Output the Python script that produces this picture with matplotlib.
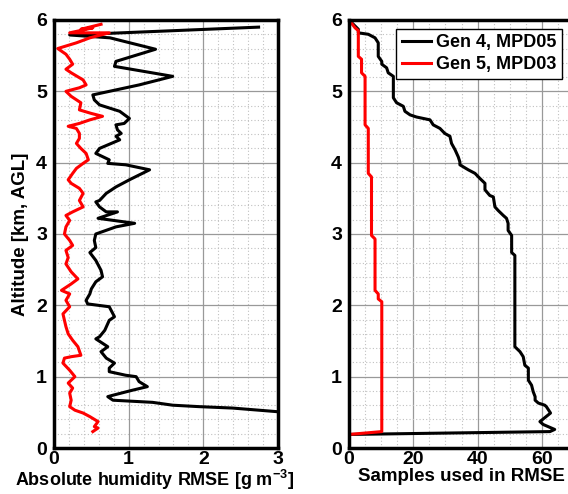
import numpy as np
import matplotlib
matplotlib.use("Agg")
import matplotlib.pyplot as plt
from matplotlib.ticker import MultipleLocator

plt.rcParams['font.family'] = ['Liberation Sans', 'DejaVu Sans']
plt.rcParams['font.weight'] = 'bold'
plt.rcParams['axes.labelweight'] = 'bold'
plt.rcParams['font.size'] = 12
plt.rcParams['mathtext.fontset'] = 'custom'
plt.rcParams['mathtext.rm'] = 'Liberation Sans:bold'
plt.rcParams['mathtext.bf'] = 'Liberation Sans:bold'
plt.rcParams['mathtext.default'] = 'bf'

# left panel: absolute humidity RMSE profiles (altitude km, rmse g/m3)
gen4_alt = [5.90, 5.79, 5.75, 5.59, 5.42, 5.35, 5.21, 5.09, 4.95, 4.88, 4.81, 4.72,
            4.62, 4.55, 4.53, 4.46, 4.41, 4.37, 4.32, 4.20, 4.13, 4.04, 3.99, 3.97,
            3.90, 3.76, 3.66, 3.57, 3.47, 3.45, 3.38, 3.31, 3.31, 3.22, 3.15, 3.10,
            3.00, 2.91, 2.81, 2.74, 2.63, 2.49, 2.40, 2.33, 2.23, 2.16, 2.07, 2.02,
            1.98, 1.84, 1.79, 1.65, 1.56, 1.53, 1.42, 1.35, 1.26, 1.19, 1.12, 1.07,
            1.02, 1.00, 0.93, 0.86, 0.81, 0.74, 0.72, 0.67, 0.64, 0.60, 0.58, 0.56,
            0.51, 0.45]
gen4_rmse = [2.74, 0.21, 0.75, 1.36, 0.83, 0.81, 1.59, 1.14, 0.52, 0.54, 0.61, 0.88,
             1.01, 0.94, 0.83, 0.85, 0.90, 0.83, 0.88, 0.61, 0.56, 0.74, 0.72, 0.96,
             1.28, 1.01, 0.83, 0.70, 0.61, 0.56, 0.61, 0.70, 0.85, 0.59, 1.08, 0.83,
             0.56, 0.54, 0.56, 0.48, 0.56, 0.63, 0.65, 0.56, 0.50, 0.48, 0.43, 0.45,
             0.74, 0.81, 0.74, 0.68, 0.61, 0.56, 0.72, 0.63, 0.70, 0.81, 0.74, 0.74,
             0.96, 1.10, 1.14, 1.25, 1.05, 0.79, 0.72, 0.79, 1.32, 1.59, 1.94, 2.39,
             2.98, 3.60]

gen5_alt = [5.94, 5.87, 5.89, 5.82, 5.82, 5.75, 5.68, 5.60, 5.52, 5.45, 5.38, 5.31,
            5.26, 5.16, 5.09, 5.05, 5.00, 4.93, 4.84, 4.74, 4.69, 4.65, 4.60, 4.55,
            4.51, 4.48, 4.41, 4.34, 4.27, 4.20, 4.13, 4.04, 3.99, 3.92, 3.85, 3.76,
            3.71, 3.64, 3.57, 3.47, 3.38, 3.31, 3.26, 3.19, 3.10, 3.00, 2.91, 2.84,
            2.77, 2.67, 2.58, 2.47, 2.37, 2.30, 2.21, 2.16, 2.07, 1.98, 1.88, 1.79,
            1.70, 1.60, 1.51, 1.42, 1.30, 1.28, 1.26, 1.19, 1.09, 1.00, 0.91, 0.84,
            0.77, 0.67, 0.58, 0.53, 0.49, 0.44, 0.37, 0.30, 0.28, 0.23]
gen5_rmse = [0.63, 0.36, 0.52, 0.21, 0.74, 0.48, 0.30, 0.05, 0.16, 0.21, 0.25, 0.16,
             0.23, 0.39, 0.43, 0.34, 0.16, 0.23, 0.36, 0.34, 0.50, 0.65, 0.48, 0.34,
             0.19, 0.30, 0.34, 0.34, 0.30, 0.36, 0.43, 0.46, 0.39, 0.30, 0.25, 0.19,
             0.23, 0.34, 0.39, 0.34, 0.39, 0.25, 0.16, 0.21, 0.16, 0.14, 0.21, 0.25,
             0.16, 0.19, 0.16, 0.23, 0.32, 0.23, 0.10, 0.21, 0.16, 0.21, 0.12, 0.14,
             0.16, 0.19, 0.25, 0.32, 0.36, 0.23, 0.14, 0.12, 0.21, 0.28, 0.19, 0.25,
             0.21, 0.23, 0.21, 0.28, 0.39, 0.48, 0.59, 0.54, 0.59, 0.52]

# right panel: number of samples
n4_alt = [6.00, 5.87, 5.82, 5.80, 5.75, 5.68, 5.49, 5.42, 5.38, 5.33, 5.26, 5.21,
          4.91, 4.84, 4.79, 4.72, 4.67, 4.64, 4.60, 4.53, 4.48, 4.41, 4.37, 4.27,
          4.18, 4.08, 4.01, 3.97, 3.90, 3.85, 3.78, 3.71, 3.62, 3.54, 3.52, 3.38,
          3.33, 3.26, 3.22, 3.15, 3.05, 2.98, 2.74, 2.70, 1.42, 1.35, 1.28, 1.16,
          1.12, 0.95, 0.88, 0.79, 0.72, 0.67, 0.63, 0.60, 0.58, 0.49, 0.37, 0.33,
          0.26, 0.23, 0.19]
n4_cnt = [0, 2.9, 2.9, 6.0, 8.1, 9.1, 9.1, 10.2, 10.2, 11.7, 12.2, 13.8,
          13.8, 14.8, 16.9, 17.4, 19.0, 21.0, 25.2, 26.2, 28.3, 29.8, 31.4, 31.9,
          33.0, 34.0, 34.5, 34.5, 37.1, 39.2, 40.7, 42.3, 42.3, 43.8, 44.9, 45.4,
          46.4, 48.0, 49.0, 49.5, 49.5, 50.6, 50.6, 51.6, 51.6, 53.2, 54.2, 54.7,
          55.8, 55.8, 56.8, 57.3, 57.9, 57.9, 58.9, 60.9, 61.4, 62.7, 59.4, 60.4,
          64.0, 62.5, 0]

n5_alt = [6.00, 5.89, 5.85, 5.49, 5.45, 5.26, 5.21, 4.53, 4.48, 3.85, 3.80, 2.98,
          2.93, 2.21, 2.16, 2.09, 2.05, 0.23, 0.19]
n5_cnt = [0, 1.9, 2.9, 2.9, 3.9, 3.9, 5.0, 5.0, 6.0, 6.0, 7.0, 7.0,
          8.1, 8.1, 9.1, 9.1, 10.2, 10.2, 0]

fig = plt.figure(figsize=(5.68, 4.94), dpi=100)
ax1 = fig.add_axes([54/568, 46/494, 224/568, 428/494])
ax2 = fig.add_axes([349/568, 46/494, 225/568, 428/494])

ax1.plot(gen4_rmse, gen4_alt, color='black', lw=2.2)
ax1.plot(gen5_rmse, gen5_alt, color='red', lw=2.2)
ax2.plot(n4_cnt, n4_alt, color='black', lw=2.2, label='Gen 4, MPD05')
ax2.plot(n5_cnt, n5_alt, color='red', lw=2.2, label='Gen 5, MPD03')

ax1.set_xlim(0, 3)
ax1.xaxis.set_major_locator(MultipleLocator(1))
ax1.xaxis.set_minor_locator(MultipleLocator(0.2))
ax2.set_xlim(0, 70)
ax2.xaxis.set_major_locator(MultipleLocator(20))
ax2.xaxis.set_minor_locator(MultipleLocator(5))

for ax in (ax1, ax2):
    ax.set_ylim(0, 6)
    ax.yaxis.set_major_locator(MultipleLocator(1))
    ax.yaxis.set_minor_locator(MultipleLocator(0.2))
    ax.grid(which='major', color='#999999', lw=0.9, ls='-')
    ax.grid(which='minor', color='#c0c0c0', lw=0.8, ls=(0, (1, 2)))
    ax.set_axisbelow(True)
    ax.tick_params(which='both', direction='in', length=0, labelsize=14)
    ax.tick_params(axis='x', pad=2)
    ax.tick_params(axis='y', pad=5)
    for lbl in ax.get_xticklabels() + ax.get_yticklabels():
        lbl.set_fontweight('bold')
    for s in ax.spines.values():
        s.set_linewidth(2.5)

ax1.set_xlabel('Absolute humidity RMSE [g m$^{-3}$]', fontsize=13, labelpad=0)
ax1.xaxis.label.set_x(0.45)
ax1.set_ylabel('Altitude [km, AGL]', fontsize=13.5, labelpad=5)
ax2.set_xlabel('Samples used in RMSE', fontsize=13.5, labelpad=0)

leg = ax2.legend(loc='upper left', bbox_to_anchor=(0.21, 0.98), fontsize=13,
                 fancybox=False, framealpha=1, edgecolor='black',
                 handlelength=1.6, borderpad=0.3, labelspacing=0.3,
                 handletextpad=0.3, borderaxespad=0)
leg.get_frame().set_linewidth(1)

fig.savefig('out.png', dpi=100)
